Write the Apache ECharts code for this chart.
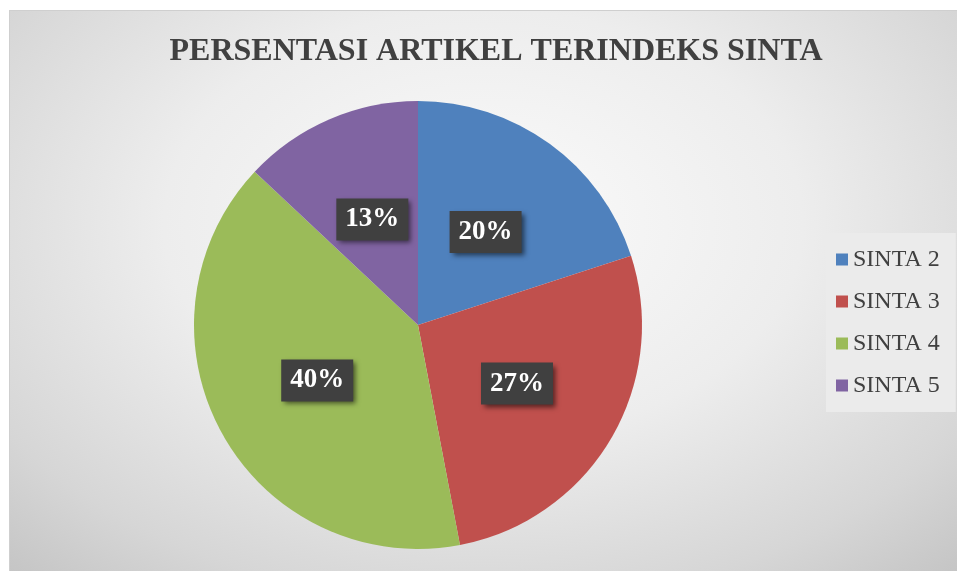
<!DOCTYPE html>
<html>
<head>
<meta charset="utf-8">
<script src="https://cdn.jsdelivr.net/npm/echarts@6/dist/echarts.min.js"></script>
<style>
html, body { margin: 0; padding: 0; background: #ffffff; }
#chart {
  position: absolute;
  left: 9px;
  top: 10px;
  width: 948px;
  height: 561px;
  border-left: 1px solid #cfcfcf;
  border-top: 1px solid #cfcfcf;
  box-sizing: border-box;
  background: radial-gradient(ellipse 75% 85% at 50% 38%, #fbfbfb 0%, #ededed 45%, #d6d6d6 80%, #c4c4c4 100%);
}
</style>
</head>
<body>
<div id="chart"></div>
<script>
// data
const categories = ['SINTA 2', 'SINTA 3', 'SINTA 4', 'SINTA 5']
const values = [20, 27, 40, 13]
const colors = ['#4f81bd', '#c0504d', '#9bbb59', '#8064a2']

const myChart = echarts.init(document.getElementById('chart'))

const pieData = categories.map(function(name, i) {
  return { name: name, value: values[i] }
})

myChart.setOption({
  animation: false,
  title: {
    text: 'PERSENTASI ARTIKEL TERINDEKS SINTA',
    left: 481,
    top: 20,
    textAlign: 'center',
    textStyle: {
      fontFamily: 'Liberation Serif',
      fontSize: 32,
      fontWeight: 'bold',
      color: '#404040'
    }
  },
  legend: {
    orient: 'vertical',
    left: 816,
    top: 222,
    padding: [14, 16, 14, 10],
    backgroundColor: '#ebebeb',
    itemWidth: 12,
    itemHeight: 12,
    itemGap: 17,
    icon: 'rect',
    data: categories,
    textStyle: {
      fontFamily: 'Liberation Serif',
      fontSize: 24,
      color: '#404040',
      lineHeight: 25
    }
  },
  color: colors,
  series: [
    {
      type: 'pie',
      radius: 224,
      center: [408, 314],
      startAngle: 90,
      clockwise: true,
      data: pieData,
      itemStyle: {
        borderWidth: 0
      },
      label: {
        show: true,
        position: 'inside',
        formatter: '{d}%',
        fontFamily: 'Liberation Serif',
        fontSize: 27,
        fontWeight: 'bold',
        color: '#ffffff',
        backgroundColor: '#404040',
        padding: [8, 9, 7, 9],
        shadowColor: 'rgba(0,0,0,0.55)',
        shadowBlur: 5,
        shadowOffsetX: 3,
        shadowOffsetY: 3
      },
      labelLine: { show: false }
    }
  ]
})
</script>
</body>
</html>
